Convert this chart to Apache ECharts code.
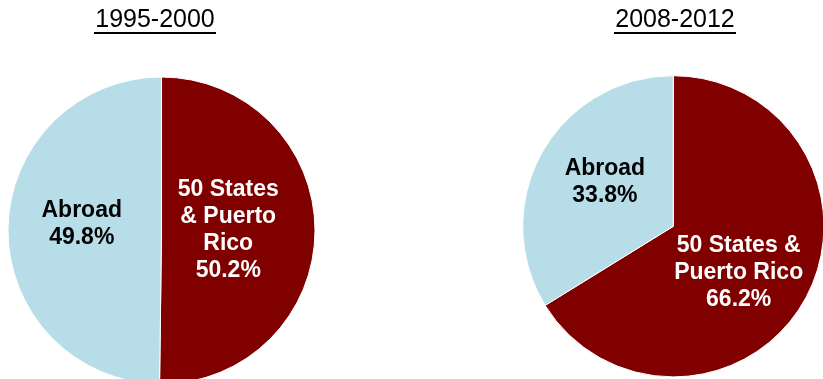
<!DOCTYPE html>
<html>
<head>
<meta charset="utf-8">
<script src="https://cdn.jsdelivr.net/npm/echarts@6/dist/echarts.min.js"></script>
<style>
  html, body { margin: 0; padding: 0; background: #fff; }
  #chart { width: 823px; height: 379px; }
</style>
</head>
<body>
<div id="chart"></div>
<script>
// Period titles
const periods = ['1995-2000', '2008-2012'];
// Slice names per period (line breaks as drawn inside the slices)
const namesEarly = ['50 States\n& Puerto\nRico', 'Abroad'];
const namesLate = ['50 States &\nPuerto Rico', 'Abroad'];
// Share of people, percent
const valuesEarly = [50.2, 49.8];
const valuesLate = [66.2, 33.8];

const colors = ['#800000', '#b7dde8'];
const labelColors = ['#ffffff', '#000000'];
const FONT = '"Liberation Sans", Arial, sans-serif';

function buildData(names, values, offsets) {
  return names.map((n, i) => ({
    name: n,
    value: values[i],
    itemStyle: { color: colors[i] },
    label: { color: labelColors[i], offset: offsets[i] }
  }));
}

function pieSeries(center, radius, data) {
  return {
    type: 'pie',
    center: center,
    radius: radius,
    startAngle: 90,
    clockwise: true,
    animation: false,
    silent: true,
    itemStyle: { borderColor: '#ffffff', borderWidth: 1 },
    label: {
      show: true,
      position: 'inner',
      fontFamily: FONT,
      fontWeight: 'bold',
      fontSize: 23,
      lineHeight: 27,
      align: 'center',
      formatter: p => p.name + '\n' + p.value.toFixed(1) + '%'
    },
    labelLine: { show: false },
    data: data
  };
}

// Underlined period heading
function heading(text, cx) {
  return {
    type: 'group',
    silent: true,
    children: [
      { type: 'text', x: cx, y: 8,
        style: { text: text, fill: '#000', font: 'normal 25px ' + FONT,
                 textAlign: 'center', textVerticalAlign: 'top' } },
      { type: 'rect', shape: { x: cx - 61, y: 32, width: 122, height: 2 },
        style: { fill: '#000' } }
    ]
  };
}

const chart = echarts.init(document.getElementById('chart'), null, { renderer: 'canvas' });
chart.setOption({
  backgroundColor: '#ffffff',
  graphic: [heading(periods[0], 155), heading(periods[1], 675)],
  series: [
    pieSeries([161.5, 230.5], 153.5, buildData(namesEarly, valuesEarly, [[-13, -1], [0, -6]])),
    pieSeries([673.3, 226.3], 150.6, buildData(namesLate, valuesLate, [[-3, 8], [0, -6]]))
  ]
});
</script>
</body>
</html>
